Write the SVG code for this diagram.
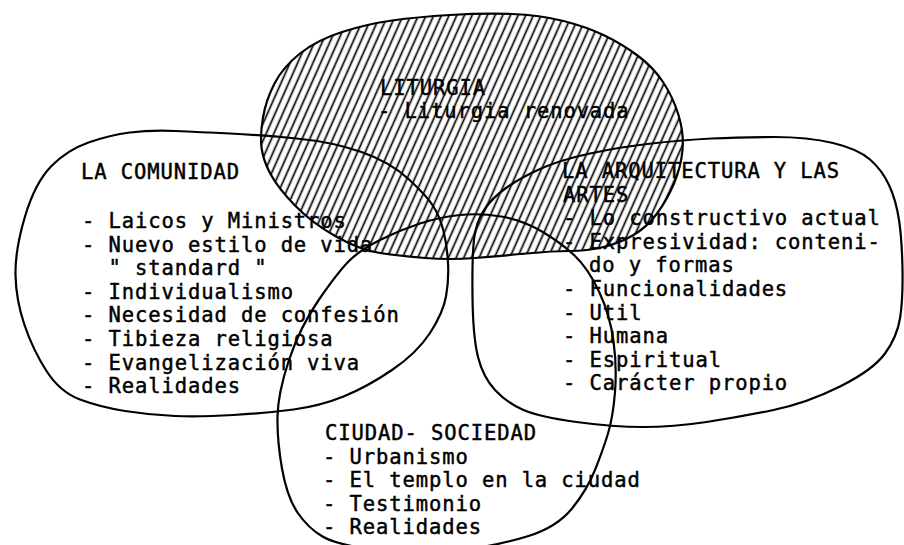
<svg xmlns="http://www.w3.org/2000/svg" width="904" height="545" viewBox="0 0 904 545">
<defs>
<pattern id="hatch" width="7" height="10" patternUnits="userSpaceOnUse" patternTransform="rotate(24)">
<line x1="3.5" y1="0" x2="3.5" y2="10" stroke="#000" stroke-width="1.7"/>
</pattern>
</defs>
<style>
.outline{fill:none;stroke:#000;stroke-width:2.2;stroke-linejoin:round}
.t{font-family:"DejaVu Sans Mono","Liberation Mono",monospace;font-size:20.5px;letter-spacing:0.9px;fill:#000;stroke:#000;stroke-width:0.45}
</style>
<rect width="904" height="545" fill="#fff"/>
<g id="liturgia">
<path class="outline" style="fill:url(#hatch)" d="M 263,117.5 Q 266,100 274.5,83.5 Q 283,67 300,53.5 Q 317,40 342,32 Q 367,24 392,20.5 Q 417,17 450,15 Q 483,13 511.5,14 Q 540,15 563.5,21 Q 587,27 604.5,35.5 Q 622,44 637.5,55.5 Q 653,67 663,82 Q 673,97 678.5,115 Q 684,133 682.5,150 Q 681,167 674,183.5 Q 667,200 657,213.5 Q 647,227 633.5,235 Q 620,243 603.5,247 Q 587,251 570,251 Q 553,251 526.5,253.5 Q 500,256 475,258 Q 450,260 425,258 Q 400,256 380,253 Q 360,250 336,236.5 Q 312,223 295,205.5 Q 278,188 270.5,174 Q 263,160 261.5,147.5 Q 260,135 263,117.5 Z"/>
<text class="t" x="380" y="95">LITURGIA</text>
<text class="t" x="378" y="118">- Liturgia renovada</text>
</g>
<g id="comunidad">
<path class="outline" d="M 230,133.5 Q 200,132 175,131 Q 150,130 130,132.5 Q 110,135 88.5,142.5 Q 67,150 51,166.5 Q 35,183 25,216.5 Q 15,250 15.5,275 Q 16,300 24.5,325 Q 33,350 46.5,371 Q 60,392 80,399.5 Q 100,407 125,411 Q 150,415 175,416 Q 200,417 233.5,415 Q 267,413 293.5,409.5 Q 320,406 343.5,396.5 Q 367,387 392,370 Q 417,353 430,333 Q 443,313 446,296.5 Q 449,280 448,262.5 Q 447,245 443.5,231 Q 440,217 433.5,206.5 Q 427,196 408.5,179 Q 390,162 361.5,152 Q 333,142 296.5,138.5 Q 260,135 230,133.5 Z"/>
<text class="t" x="81" y="179">LA COMUNIDAD</text>
<text class="t" x="82" y="228">- Laicos y Ministros</text>
<text class="t" x="82" y="251.6">- Nuevo estilo de vida</text>
<text class="t" x="108.5" y="275.2">" standard "</text>
<text class="t" x="82" y="298.8">- Individualismo</text>
<text class="t" x="82" y="322.4">- Necesidad de confesión</text>
<text class="t" x="82" y="346">- Tibieza religiosa</text>
<text class="t" x="82" y="369.6">- Evangelización viva</text>
<text class="t" x="82" y="393.2">- Realidades</text>
</g>
<g id="arquitectura">
<path class="outline" d="M 651.5,143.5 Q 620,147 590,153.5 Q 560,160 540,169 Q 520,178 506,188 Q 492,198 484,210 Q 476,222 474,239.5 Q 472,257 472.5,297 Q 473,337 478,357 Q 483,377 495,390 Q 507,403 523.5,410 Q 540,417 576.5,422 Q 613,427 643,427 Q 673,427 706.5,422 Q 740,417 773.5,410 Q 807,403 840,386.5 Q 873,370 885,353.5 Q 897,337 900,318.5 Q 903,300 902.5,270 Q 902,240 899,220 Q 896,200 889,185 Q 882,170 870,159.5 Q 858,149 833,143 Q 808,137 774,137 Q 740,137 711.5,138.5 Q 683,140 651.5,143.5 Z"/>
<text class="t" x="562" y="178">LA ARQUITECTURA Y LAS</text>
<text class="t" x="563" y="201.6">ARTES</text>
<text class="t" x="563" y="225.2">- Lo constructivo actual</text>
<text class="t" x="563" y="248.8">- Expresividad: conteni-</text>
<text class="t" x="589" y="272.4">do y formas</text>
<text class="t" x="563" y="296">- Funcionalidades</text>
<text class="t" x="563" y="319.6">- Util</text>
<text class="t" x="563" y="343.2">- Humana</text>
<text class="t" x="563" y="366.8">- Espiritual</text>
<text class="t" x="563" y="390.4">- Carácter propio</text>
</g>
<g id="ciudad">
<path class="outline" d="M 380,240 Q 400,230 420,223.5 Q 440,217 460,215 Q 480,213 501,216.5 Q 522,220 541,231 Q 560,242 574,255 Q 588,268 599,291.5 Q 610,315 613.5,341 Q 617,367 615,392 Q 613,417 608,433.5 Q 603,450 595,470 Q 587,490 572,508.5 Q 557,527 528.5,536 Q 500,545 460,550.5 Q 420,556 378.5,550.5 Q 337,545 322.5,536.5 Q 308,528 297.5,512.5 Q 287,497 282,468.5 Q 277,440 277.5,416.5 Q 278,393 289,360 Q 300,327 319,299.5 Q 338,272 349,261 Q 360,250 380,240 Z"/>
<text class="t" x="325" y="440">CIUDAD- SOCIEDAD</text>
<text class="t" x="323" y="463.5">- Urbanismo</text>
<text class="t" x="323" y="487">- El templo en la ciudad</text>
<text class="t" x="323" y="510.5">- Testimonio</text>
<text class="t" x="323" y="534">- Realidades</text>
</g>
<g id="connectors"></g>
</svg>
